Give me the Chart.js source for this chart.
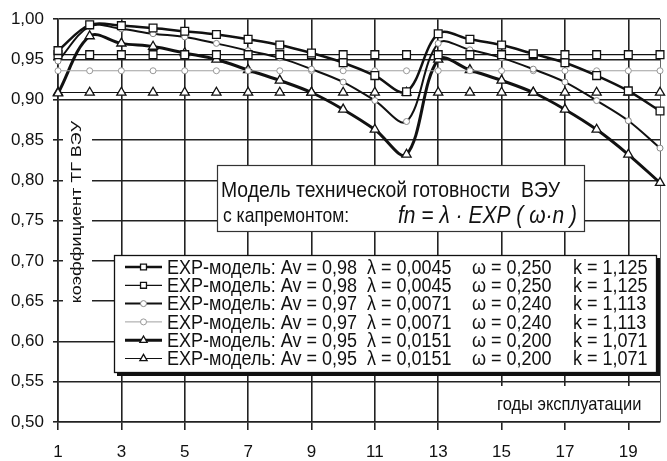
<!DOCTYPE html>
<html>
<head>
<meta charset="utf-8">
<script src="https://cdn.jsdelivr.net/npm/chart.js@4.4.1/dist/chart.umd.min.js"></script>
<style>
  html, body { margin: 0; padding: 0; background: #fff; }
  #wrap { width: 667px; height: 461px; }
</style>
</head>
<body>
<div id="wrap"><canvas id="chart" width="667" height="461"></canvas></div>
<script>
// years of operation
const years = [1, 2, 3, 4, 5, 6, 7, 8, 9, 10, 11, 12, 13, 14, 15, 16, 17, 18, 19, 20];
const xTicks = [1, 3, 5, 7, 9, 11, 13, 15, 17, 19];
const yTicks = [0.50, 0.55, 0.60, 0.65, 0.70, 0.75, 0.80, 0.85, 0.90, 0.95, 1.00];

const av98Model = [0.961, 0.993, 0.992, 0.989, 0.985, 0.981, 0.975, 0.968, 0.958, 0.946, 0.930, 0.910,
                   0.982, 0.975, 0.968, 0.957, 0.946, 0.930, 0.911, 0.886];
const av98Level = [0.956, 0.956, 0.956, 0.956, 0.956, 0.956, 0.956, 0.956, 0.956, 0.956,
                   0.956, 0.956, 0.956, 0.956, 0.956, 0.956, 0.956, 0.956, 0.956, 0.956];
const av97Model = [0.948, 0.991, 0.988, 0.982, 0.978, 0.970, 0.961, 0.952, 0.938, 0.922, 0.899, 0.873,
                   0.970, 0.962, 0.952, 0.938, 0.922, 0.899, 0.874, 0.840];
const av97Level = [0.936, 0.936, 0.936, 0.936, 0.936, 0.936, 0.936, 0.936, 0.936, 0.936,
                   0.936, 0.936, 0.936, 0.936, 0.936, 0.936, 0.936, 0.936, 0.936, 0.936];
const av95Model = [0.908, 0.979, 0.970, 0.966, 0.958, 0.950, 0.937, 0.924, 0.909, 0.888, 0.863, 0.832,
                   0.950, 0.937, 0.924, 0.909, 0.888, 0.863, 0.832, 0.797];
const av95Level = [0.909, 0.909, 0.909, 0.909, 0.909, 0.909, 0.909, 0.909, 0.909, 0.909,
                   0.909, 0.909, 0.909, 0.909, 0.909, 0.909, 0.909, 0.909, 0.909, 0.909];

const legendModel = ['EXP-модель: Av = 0,98', 'EXP-модель: Av = 0,98', 'EXP-модель: Av = 0,97',
                     'EXP-модель: Av = 0,97', 'EXP-модель: Av = 0,95', 'EXP-модель: Av = 0,95'];
const legendLambda = ['λ = 0,0045', 'λ = 0,0045', 'λ = 0,0071', 'λ = 0,0071', 'λ = 0,0151', 'λ = 0,0151'];
const legendOmega = ['ω = 0,250', 'ω = 0,250', 'ω = 0,240', 'ω = 0,240', 'ω = 0,200', 'ω = 0,200'];
const legendK = ['k = 1,125', 'k = 1,125', 'k = 1,113', 'k = 1,113', 'k = 1,071', 'k = 1,071'];

const titleLine1 = 'Модель технической готовности  ВЭУ';
const titleLine2 = 'с капремонтом:';
const titleFormula = 'fn = λ · EXP ( ω·n )';
const yTitle = 'коэффициент ТГ ВЭУ';
const xTitle = 'годы эксплуатации';

const SANS = '"Liberation Sans", Arial, sans-serif';
const NARROW = '"Liberation Sans Narrow", "Liberation Sans", Arial, sans-serif';
const GRID = '#222';
const STRETCH = 1.16; // the scanned picture is a bit taller than wide

const toPoints = arr => years.map((x, i) => ({ x: x, y: arr[i] }));

function series(label, data, o) {
  return Object.assign({
    label: label,
    data: toPoints(data),
    borderColor: '#111',
    pointBackgroundColor: '#fff',
    pointBorderColor: '#111',
    pointBorderWidth: 1.3,
    clip: false,
    tension: 0
  }, o);
}

const datasets = [
  series(legendModel[0], av98Model, { borderWidth: 2.5, pointStyle: 'rect', pointRadius: 5.5, tension: 0.35 }),
  series(legendModel[1], av98Level, { borderWidth: 1.2, pointStyle: 'rect', pointRadius: 5.5 }),
  series(legendModel[2], av97Model, { borderWidth: 2, pointStyle: 'circle', pointRadius: 3,
    pointBorderColor: '#888', pointBorderWidth: 1, tension: 0.35 }),
  series(legendModel[3], av97Level, { borderColor: '#a0a0a0', borderWidth: 1, pointStyle: 'circle', pointRadius: 3,
    pointBorderColor: '#999', pointBorderWidth: 1 }),
  series(legendModel[4], av95Model, { borderWidth: 3, pointStyle: 'triangle', pointRadius: 5.3, tension: 0.35 }),
  series(legendModel[5], av95Level, { borderWidth: 1.2, pointStyle: 'triangle', pointRadius: 5.3 })
];

function stretchedText(ctx, text, x, y, font, align) {
  ctx.save();
  ctx.translate(x, y);
  ctx.scale(1, STRETCH);
  ctx.font = font;
  ctx.textAlign = align || 'left';
  ctx.textBaseline = 'middle';
  ctx.fillStyle = '#111';
  ctx.fillText(text, 0, 0);
  ctx.restore();
}

const decor = {
  id: 'decor',
  beforeDraw(chart) {
    const ctx = chart.ctx;
    ctx.save();
    ctx.fillStyle = '#fff';
    ctx.fillRect(0, 0, chart.width, chart.height);
    ctx.restore();
  },
  beforeDatasetsDraw(chart) {
    const ctx = chart.ctx;
    const a = chart.chartArea;
    ctx.save();
    // right frame of the plot
    ctx.strokeStyle = '#666';
    ctx.lineWidth = 1;
    ctx.beginPath();
    ctx.moveTo(a.right + 0.5, a.top);
    ctx.lineTo(a.right + 0.5, a.bottom);
    ctx.stroke();

    // y title, on white, inside the plot
    ctx.fillStyle = '#fff';
    ctx.fillRect(63, 116, 29, 196);
    ctx.translate(77, 212);
    ctx.rotate(-Math.PI / 2);
    ctx.scale(STRETCH, 1);
    ctx.font = '15.5px ' + SANS;
    ctx.textAlign = 'center';
    ctx.textBaseline = 'middle';
    ctx.fillStyle = '#111';
    ctx.fillText(yTitle, 0, 0);
    ctx.restore();

    // x title, on white, bottom right corner of the plot
    ctx.save();
    ctx.fillStyle = '#fff';
    ctx.fillRect(488, 386, a.right - 488, a.bottom - 386 - 1);
    ctx.restore();
    stretchedText(ctx, xTitle, 497, 405, '16.5px ' + SANS);
  },
  afterDatasetsDraw(chart) {
    const ctx = chart.ctx;

    // title box
    ctx.save();
    ctx.fillStyle = '#fff';
    ctx.fillRect(217, 165, 368, 67);
    ctx.strokeStyle = '#333';
    ctx.lineWidth = 1.2;
    ctx.strokeRect(217.5, 165.5, 367, 66);
    ctx.restore();
    stretchedText(ctx, titleLine1, 221, 191, '19.4px ' + SANS);
    stretchedText(ctx, titleLine2, 223, 216, '17.5px ' + SANS);
    stretchedText(ctx, titleFormula, 398, 216, 'italic 21px ' + SANS);

    // legend box with shadow
    ctx.save();
    ctx.fillStyle = '#111';
    ctx.fillRect(117, 258, 543, 118);
    ctx.fillStyle = '#fff';
    ctx.fillRect(114, 255, 543, 118);
    ctx.strokeStyle = '#111';
    ctx.lineWidth = 1.3;
    ctx.strokeRect(114.5, 255.5, 542, 117);
    ctx.restore();

    const rowY0 = 267, rowStep = 18.3;
    datasets.forEach((ds, i) => {
      const y = rowY0 + i * rowStep;
      ctx.save();
      ctx.strokeStyle = ds.borderColor;
      ctx.lineWidth = ds.borderWidth;
      ctx.beginPath();
      ctx.moveTo(125, y);
      ctx.lineTo(162, y);
      ctx.stroke();
      ctx.fillStyle = ds.pointBackgroundColor;
      ctx.strokeStyle = ds.pointBorderColor;
      ctx.lineWidth = ds.pointBorderWidth;
      Chart.helpers.drawPoint(ctx, {
        pointStyle: ds.pointStyle,
        radius: ds.pointStyle === 'circle' ? 3 : 4.2,
        rotation: 0,
        borderWidth: ds.pointBorderWidth
      }, 143.5, y);
      ctx.restore();
      const f = '18px ' + SANS;
      stretchedText(ctx, legendModel[i], 167, y + 1, f);
      stretchedText(ctx, legendLambda[i], 367, y + 1, f);
      stretchedText(ctx, legendOmega[i], 472, y + 1, f);
      stretchedText(ctx, legendK[i], 573, y + 1, f);
    });
  }
};

new Chart(document.getElementById('chart'), {
  type: 'line',
  data: { datasets: datasets },
  options: {
    responsive: false,
    animation: false,
    devicePixelRatio: 1,
    events: [],
    layout: { padding: { top: 13, right: 7, bottom: 0, left: 0 } },
    plugins: { legend: { display: false }, tooltip: { enabled: false } },
    scales: {
      x: {
        type: 'linear',
        min: 1,
        max: 20,
        afterBuildTicks: s => { s.ticks = xTicks.map(v => ({ value: v })); },
        afterFit: s => { s.height = 39; },
        grid: { color: GRID, lineWidth: 1.6, tickLength: 8, tickColor: GRID },
        border: { color: GRID, width: 1.6 },
        ticks: {
          autoSkip: false,
          maxRotation: 0,
          padding: 12,
          color: '#111',
          font: { family: NARROW, size: 17 },
          callback: v => String(v)
        }
      },
      y: {
        min: 0.5,
        max: 1.0,
        afterBuildTicks: s => { s.ticks = yTicks.map(v => ({ value: v })); },
        afterFit: s => { s.width = 58; },
        grid: { color: GRID, lineWidth: 1.6, tickLength: 5, tickColor: GRID },
        border: { color: GRID, width: 1.6 },
        ticks: {
          padding: 9,
          color: '#111',
          font: { family: NARROW, size: 17 },
          callback: v => v.toFixed(2).replace('.', ',')
        }
      }
    }
  },
  plugins: [decor]
});
</script>
</body>
</html>
